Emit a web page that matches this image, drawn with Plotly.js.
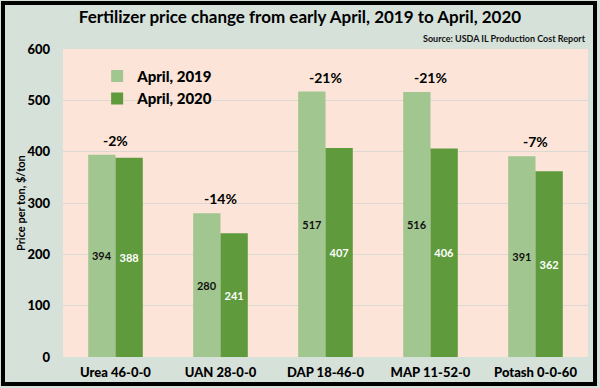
<!DOCTYPE html>
<html>
<head>
<meta charset="utf-8">
<script src="https://cdn.plot.ly/plotly-3.0.1.min.js"></script>
<style>
html,body{margin:0;padding:0;background:#d6e1da;}
#wrap{position:relative;width:600px;height:388px;}
#chart{width:600px;height:388px;}
#frame{position:absolute;left:1px;top:1px;width:596px;height:385px;border:4px solid #000;box-sizing:border-box;pointer-events:none;}
</style>
</head>
<body>
<div id="wrap"><div id="chart"></div><div id="frame"></div></div>
<script>
const categories = ["Urea 46-0-0", "UAN 28-0-0", "DAP 18-46-0", "MAP 11-52-0", "Potash 0-0-60"];
const prices2019 = [394, 280, 517, 516, 391];
const prices2020 = [388, 241, 407, 406, 362];
const seriesNames = ["April, 2019", "April, 2020"];
const yTicks = [0, 100, 200, 300, 400, 500, 600];

const FONT = "Lato, 'Open Sans', sans-serif";

const traces = [
  {
    type: "bar", name: seriesNames[0], x: categories, y: prices2019,
    marker: {color: "#a2c68f"},
    text: prices2019.map(String), textposition: "inside", insidetextanchor: "middle",
    textangle: 0, constraintext: "none",
    textfont: {family: FONT, size: 11, color: "#111", weight: 700}
  },
  {
    type: "bar", name: seriesNames[1], x: categories, y: prices2020,
    marker: {color: "#5f9a3c"},
    text: prices2020.map(String), textposition: "inside", insidetextanchor: "middle",
    textangle: 0, constraintext: "none",
    textfont: {family: FONT, size: 11, color: "#ffffff", weight: 700}
  }
];

const annotations = categories.map((c, i) => ({
  x: c, y: Math.max(prices2019[i], prices2020[i]), xref: "x", yref: "y",
  text: "<b>" + Math.round((prices2020[i] - prices2019[i]) / prices2019[i] * 100) + "%</b>",
  showarrow: false, yanchor: "bottom", yshift: 4,
  font: {family: FONT, size: 14, color: "#000", weight: 900}
}));
annotations.push({
  xref: "paper", yref: "paper", x: 1, y: 1, yanchor: "bottom", xanchor: "right", yshift: 3,
  text: "<b>Source: USDA IL Production Cost Report</b>", showarrow: false,
  font: {family: FONT, size: 9, color: "#111"}
});
annotations.push({
  xref: "paper", yref: "paper", x: -0.082, y: 0.5, xanchor: "center", yanchor: "middle",
  textangle: -90, text: "<b>Price per ton, $/ton</b>", showarrow: false,
  font: {family: FONT, size: 11, color: "#000"}
});

const layout = {
  width: 600, height: 388,
  margin: {l: 63, r: 12, t: 49, b: 31},
  paper_bgcolor: "#d6e1da", plot_bgcolor: "#fce5d8",
  title: {text: "<b>Fertilizer price change from early April, 2019 to April, 2020</b>",
          x: 0.5, xanchor: "center", y: 0.955, yanchor: "middle",
          font: {family: FONT, size: 17, color: "#000", weight: 900}},
  barmode: "group", bargap: 0.48, bargroupgap: 0,
  showlegend: true,
  legend: {x: 0.065, y: 0.965, xanchor: "left", yanchor: "top", bgcolor: "rgba(0,0,0,0)",
           font: {family: FONT, size: 15, color: "#000", weight: 900}, tracegroupgap: 4,
           itemwidth: 30},
  xaxis: {tickfont: {family: FONT, size: 13, color: "#000", weight: 900}, showline: false, ticks: "",
          ticklabelstandoff: 6},
  yaxis: {range: [0, 600], tickvals: yTicks, showgrid: true, gridcolor: "#dcd8d2", gridwidth: 1,
          zeroline: false, ticks: "", ticklen: 0, ticklabelstandoff: 12,
          tickfont: {family: FONT, size: 13, color: "#000", weight: 900}},
  annotations: annotations
};

Plotly.newPlot("chart", traces, layout, {displayModeBar: false, staticPlot: true});
</script>
</body>
</html>
